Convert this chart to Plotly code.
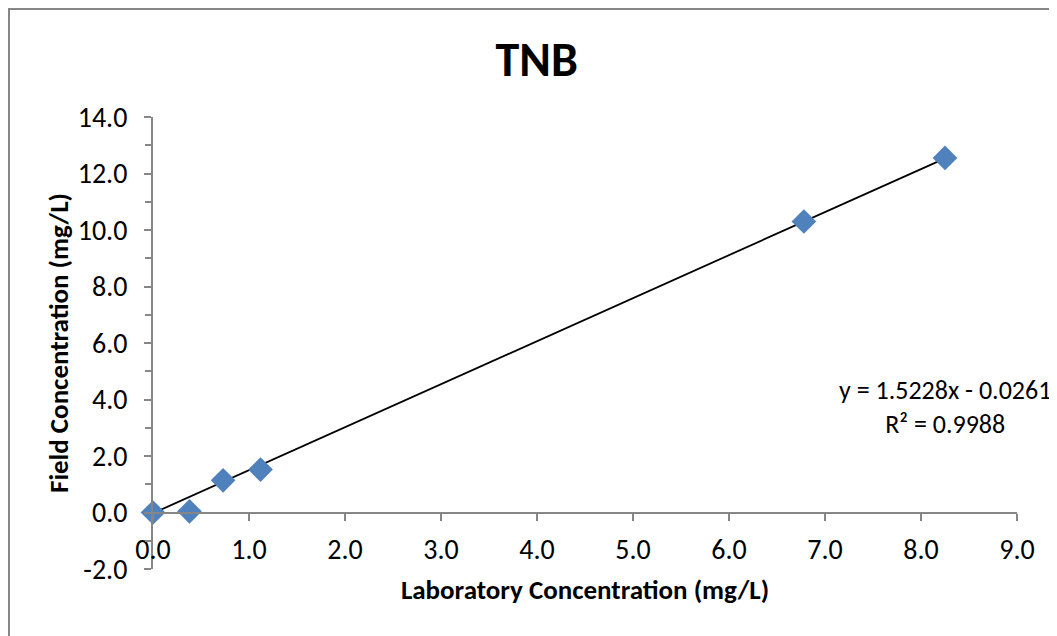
import plotly.graph_objects as go

##############################################################################
# Data
##############################################################################
lab_conc = [0.0, 0.38, 0.73, 1.12, 6.78, 8.25]
field_conc = [0.0, 0.04, 1.14, 1.52, 10.3, 12.55]

slope = 1.5228
intercept = -0.0261
r_squared = 0.9988

x_ticks = [0, 1, 2, 3, 4, 5, 6, 7, 8, 9]
y_ticks = [-2, 0, 2, 4, 6, 8, 10, 12, 14]

font_family = "Carlito, Lato, 'Open Sans', sans-serif"
axis_grey = "#868686"
marker_blue = "#4F81BD"

##############################################################################
# Figure
##############################################################################
# the page body adds an 8px offset, so the figure is 8px smaller than the window
W, H = 1049, 628
L, T = 145, 109
PW, PH = 864, 452

fit_x = [min(lab_conc), max(lab_conc)]
fit_y = [slope * v + intercept for v in fit_x]

fig = go.Figure()
fig.add_trace(go.Scatter(x=fit_x, y=fit_y, mode="lines",
                         line=dict(color="black", width=1.8),
                         showlegend=False, hoverinfo="skip", cliponaxis=False))
fig.add_trace(go.Scatter(x=lab_conc, y=field_conc, mode="markers",
                         marker=dict(symbol="diamond", size=19, color=marker_blue,
                                     line=dict(width=0)),
                         showlegend=False, cliponaxis=False))

eq_text = "y = %.4fx - %.4f<br>R² = %.4f" % (slope, abs(intercept), r_squared)
fig.add_annotation(x=0.9167, y=0.358, xref="paper", yref="paper", text=eq_text,
                   showarrow=False, align="center", xanchor="center", yanchor="middle",
                   font=dict(family=font_family, size=26, color="black"))

# chart frame (left and top edges sit at the figure edge)
fig.add_shape(type="rect", xref="paper", yref="paper",
              x0=(1 - L) / PW, x1=(W + 10 - L) / PW,
              y0=-(H + 10 - T - PH) / PH, y1=(T + PH - 1) / PH,
              line=dict(color=axis_grey, width=2), layer="below")

fig.update_layout(
    width=W, height=H,
    margin=dict(l=L, r=W - L - PW, t=T, b=H - T - PH, autoexpand=False),
    paper_bgcolor="white", plot_bgcolor="white",
    font=dict(family=font_family, color="black"),
    title=dict(text="<b>TNB</b>", x=0.504, xanchor="center", y=1 - 51 / H, yanchor="middle",
               font=dict(family=font_family, size=48, color="black")),
    xaxis=dict(range=[0, 9], tickvals=x_ticks, ticktext=["%.1f" % v for v in x_ticks],
               showgrid=False, zeroline=False, showline=True, automargin=False,
               linecolor=axis_grey, linewidth=2,
               ticks="outside", ticklen=7, tickwidth=2, tickcolor=axis_grey,
               tickfont=dict(size=28), ticklabelstandoff=5,
               anchor="free", position=0.125,
               title=dict(text="<b>Laboratory Concentration (mg/L)</b>",
                          font=dict(size=27), standoff=13)),
    yaxis=dict(range=[-2, 14], tickvals=y_ticks, ticktext=["%.1f" % v for v in y_ticks],
               showgrid=False, zeroline=False, showline=True, automargin=False,
               linecolor=axis_grey, linewidth=2,
               ticks="outside", ticklen=7, tickwidth=2, tickcolor=axis_grey,
               minor=dict(ticks="outside", dtick=1, tick0=0, ticklen=6,
                          tickwidth=2, tickcolor=axis_grey),
               tickfont=dict(size=28), ticklabelstandoff=11,
               title=dict(text="<b>Field Concentration (mg/L)</b>",
                          font=dict(size=27), standoff=1)),
)

fig.write_html("out.html")
